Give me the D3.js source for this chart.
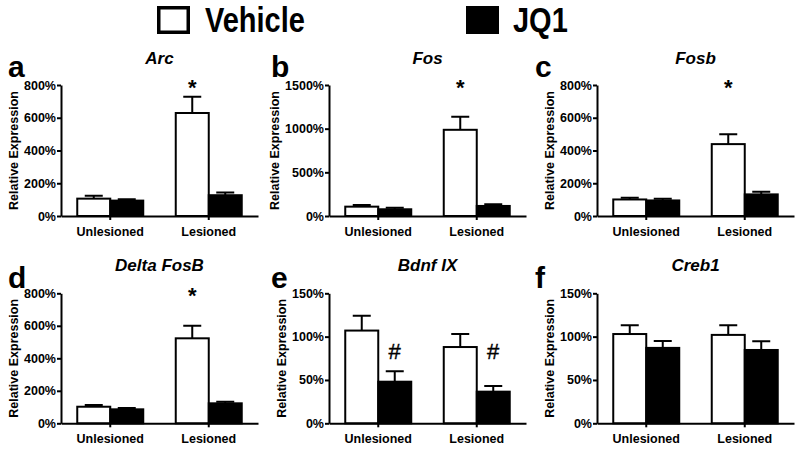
<!DOCTYPE html>
<html><head><meta charset="utf-8">
<script src="https://cdn.jsdelivr.net/npm/d3@7"></script>
<style>
body{margin:0;background:#fff}
svg{display:block}
text{font-family:"Liberation Sans",Arial,Helvetica,sans-serif;}
</style></head>
<body>
<svg id="chart" width="800" height="449"></svg>
<script>
// ---------------- data ----------------
const genes = ["Arc", "Fos", "Fosb", "Delta FosB", "Bdnf IX", "Creb1"];
const panelLetters = ["a", "b", "c", "d", "e", "f"];
const categories = ["Unlesioned", "Lesioned"];
const series = ["Vehicle", "JQ1"];
// means (%) per panel: [Unlesioned, Lesioned]
const vehicleMean = [[106, 629], [107, 987], [101, 439], [102, 523], [107, 88], [103, 102]];
const jq1Mean     = [[94, 127],  [77, 115],  [95, 132],  [86, 123],  [48, 36.5], [87, 84.6]];
// SEM (%) per panel
const vehicleSem  = [[17, 99],   [19, 150],  [10, 61],   [11, 77],   [17, 15],  [10, 11]];
const jq1Sem      = [[8, 16],    [18, 19],   [10, 16],   [8, 10],    [12, 6.5], [8, 10]];
// y axis maxima and tick steps
const yMax  = [800, 1500, 800, 800, 150, 150];
const yStep = [200, 500, 200, 200, 50, 50];
// significance markers
const markers = [
  {panel: 0, category: "Lesioned", series: "Vehicle", symbol: "*"},
  {panel: 1, category: "Lesioned", series: "Vehicle", symbol: "*"},
  {panel: 2, category: "Lesioned", series: "Vehicle", symbol: "*"},
  {panel: 3, category: "Lesioned", series: "Vehicle", symbol: "*"},
  {panel: 4, category: "Unlesioned", series: "JQ1", symbol: "#"},
  {panel: 4, category: "Lesioned", series: "JQ1", symbol: "#"}
];
const yLabel = "Relative Expression";

// ---------------- layout ----------------
const colX = [61, 329, 597];
const plotW = 197;
const rowBottom = [216, 423.3];
const rowTop = [85, 293.3];
const titleY = [64, 271];
const letterX = [8, 271, 535];
const letterY = [76.5, 288];
const fills = {"Vehicle": "#fff", "JQ1": "#000"};
const legendLayout = [{bx: 157, tx: 205}, {bx: 466, tx: 513}];

const svg = d3.select("#chart");
svg.append("rect").attr("width", 800).attr("height", 449).attr("fill", "#fff");

// legend
series.forEach((s, k) => {
  const L = legendLayout[k];
  svg.append("rect").attr("x", L.bx + 1.75).attr("y", 7.75)
    .attr("width", 29.5).attr("height", 24.5)
    .attr("fill", fills[s]).attr("stroke", "#000").attr("stroke-width", 3.5);
  svg.append("text").attr("transform", `translate(${L.tx},31.7) scale(1,1.2)`)
    .attr("font-size", 29).attr("font-weight", "bold").attr("fill", "#000").text(s);
});

const means = {"Vehicle": vehicleMean, "JQ1": jq1Mean};
const sems = {"Vehicle": vehicleSem, "JQ1": jq1Sem};

genes.forEach((gene, i) => {
  const col = i % 3, row = Math.floor(i / 3);
  const x0 = colX[col], x1 = x0 + plotW;
  const yb = rowBottom[row], yt = rowTop[row];
  const x = d3.scaleBand().domain(categories).range([x0, x1]).paddingInner(0.33).paddingOuter(0.165);
  const sub = d3.scaleBand().domain(series).range([0, x.bandwidth()]);
  const y = d3.scaleLinear().domain([0, yMax[i]]).range([yb, yt]);
  const g = svg.append("g");

  const rows = [];
  categories.forEach((c, j) => series.forEach(s => rows.push({c, s, v: means[s][i][j], e: sems[s][i][j]})));

  // error bars (upper)
  g.selectAll(".err").data(rows).enter().append("path")
    .attr("d", d => {
      const cx = x(d.c) + sub(d.s) + sub.bandwidth() / 2;
      const yv = y(d.v), ye = y(d.v + d.e);
      return `M${cx},${yv}V${ye}M${cx - 9},${ye}H${cx + 9}`;
    })
    .attr("fill", "none").attr("stroke", "#000").attr("stroke-width", 2);

  // bars
  g.selectAll(".bar").data(rows).enter().append("rect")
    .attr("x", d => x(d.c) + sub(d.s))
    .attr("y", d => y(d.v))
    .attr("width", sub.bandwidth())
    .attr("height", d => yb - y(d.v))
    .attr("fill", d => fills[d.s]).attr("stroke", "#000").attr("stroke-width", 2);

  // y axis
  const ticks = d3.range(0, yMax[i] + 1, yStep[i]);
  const ya = g.append("g").attr("transform", `translate(${x0},0)`)
    .call(d3.axisLeft(y).tickValues(ticks).tickFormat(d => d + "%").tickSize(4).tickSizeOuter(0).tickPadding(1));
  // x axis
  const xa = g.append("g").attr("transform", `translate(0,${yb})`)
    .call(d3.axisBottom(x).tickSize(4).tickSizeOuter(0).tickPadding(7));
  [ya, xa].forEach(a => {
    a.attr("font-family", null).attr("font-size", null);
    a.select(".domain").attr("stroke", "#000").attr("stroke-width", 2);
    a.selectAll(".tick line").attr("stroke", "#000").attr("stroke-width", 2);
    a.selectAll(".tick text").attr("fill", "#000").attr("font-size", 12.5).attr("font-weight", "bold");
  });

  let maxW = 0;
  ya.selectAll(".tick text").each(function () { maxW = Math.max(maxW, this.getComputedTextLength()); });

  // y label
  const labelCx = x0 - 4.5 - maxW - 11;
  g.append("text")
    .attr("transform", `translate(${labelCx + 4.5},${(yb + yt) / 2}) rotate(-90)`)
    .attr("text-anchor", "middle").attr("font-size", 12.5).attr("font-weight", "bold").attr("fill", "#000")
    .text(yLabel);

  // title
  g.append("text").attr("x", (x0 + x1) / 2).attr("y", titleY[row])
    .attr("text-anchor", "middle").attr("font-size", 17).attr("font-weight", "bold")
    .attr("font-style", "italic").attr("fill", "#000").text(gene);

  // panel letter
  g.append("text").attr("x", letterX[col]).attr("y", letterY[row])
    .attr("font-size", 30).attr("font-weight", "bold").attr("fill", "#000").text(panelLetters[i]);

  // markers
  markers.filter(m => m.panel === i).forEach(m => {
    const cx = x(m.category) + sub(m.series) + sub.bandwidth() / 2;
    if (m.symbol === "*") {
      g.append("text").attr("x", cx).attr("y", yt + 10).attr("text-anchor", "middle")
        .attr("font-size", 22).attr("font-weight", "bold").attr("fill", "#000").text(m.symbol);
    } else {
      g.append("text").attr("x", cx).attr("y", y(74)).attr("text-anchor", "middle")
        .attr("font-size", 22).attr("fill", "#000").attr("stroke", "#000").attr("stroke-width", 0.4)
        .text(m.symbol);
    }
  });
});
</script>
</body></html>
